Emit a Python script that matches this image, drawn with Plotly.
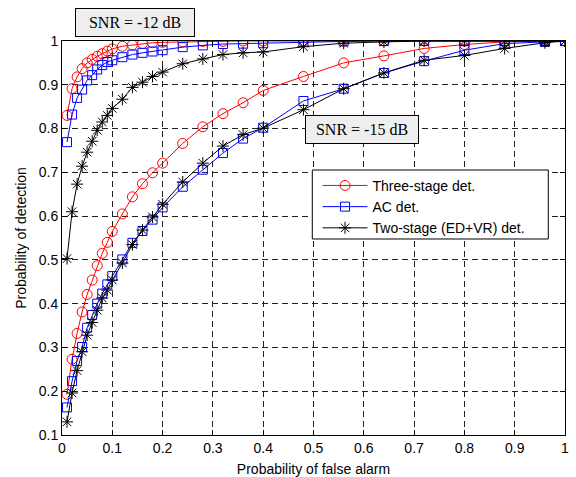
import plotly.graph_objects as go

# False-alarm probabilities at which each detector was evaluated
pfa = [0.01, 0.02, 0.03, 0.04, 0.05, 0.06, 0.07, 0.08, 0.09, 0.10,
       0.12, 0.14, 0.16, 0.18, 0.20, 0.24, 0.28, 0.32, 0.36, 0.40,
       0.48, 0.56, 0.64, 0.72, 0.80, 0.88, 0.96, 1.00]

# Detection probabilities, SNR = -12 dB
three_stage_m12 = [0.830, 0.891, 0.918, 0.937, 0.950, 0.958, 0.965, 0.971, 0.977, 0.982,
                   0.988, 0.991, 0.994, 0.996, 0.997, 0.998, 0.999, 0.999, 1.000, 1.000,
                   1.000, 1.000, 1.000, 1.000, 1.000, 1.000, 1.000, 1.000]
ac_m12 = [0.769, 0.832, 0.870, 0.889, 0.910, 0.922, 0.935, 0.945, 0.952, 0.956,
          0.963, 0.969, 0.973, 0.976, 0.979, 0.986, 0.990, 0.993, 0.994, 0.995,
          0.998, 0.999, 1.000, 1.000, 1.000, 1.000, 1.000, 1.000]
two_stage_m12 = [0.503, 0.610, 0.673, 0.714, 0.746, 0.771, 0.796, 0.815, 0.830, 0.846,
                 0.867, 0.894, 0.906, 0.919, 0.929, 0.948, 0.959, 0.969, 0.973, 0.975,
                 0.987, 0.995, 0.998, 1.000, 1.000, 1.000, 1.000, 1.000]

# Detection probabilities, SNR = -15 dB
three_stage_m15 = [0.193, 0.273, 0.332, 0.381, 0.421, 0.454, 0.487, 0.515, 0.540, 0.565,
                   0.605, 0.644, 0.674, 0.699, 0.721, 0.766, 0.804, 0.834, 0.859, 0.887,
                   0.919, 0.950, 0.966, 0.983, 0.992, 0.998, 1.000, 1.000]
ac_m15 = [0.163, 0.223, 0.269, 0.301, 0.345, 0.374, 0.400, 0.423, 0.444, 0.463,
          0.501, 0.539, 0.566, 0.592, 0.620, 0.667, 0.706, 0.744, 0.777, 0.802,
          0.863, 0.891, 0.927, 0.954, 0.979, 0.994, 0.998, 1.000]
two_stage_m15 = [0.130, 0.196, 0.247, 0.290, 0.328, 0.357, 0.385, 0.413, 0.431, 0.454,
                 0.493, 0.535, 0.568, 0.598, 0.627, 0.678, 0.721, 0.760, 0.786, 0.801,
                 0.843, 0.891, 0.927, 0.956, 0.967, 0.983, 0.996, 1.000]

x_ticks = [0, 0.1, 0.2, 0.3, 0.4, 0.5, 0.6, 0.7, 0.8, 0.9, 1]
x_tick_text = ["0", "0.1", "0.2", "0.3", "0.4", "0.5", "0.6", "0.7", "0.8", "0.9", "1"]
y_ticks = [0.1, 0.2, 0.3, 0.4, 0.5, 0.6, 0.7, 0.8, 0.9, 1]
y_tick_text = ["0.1", "0.2", "0.3", "0.4", "0.5", "0.6", "0.7", "0.8", "0.9", "1"]

detectors = [
    ("Three-stage det.", "#ff0000", "circle-open", 10, three_stage_m12, three_stage_m15),
    ("AC det.", "#0000ff", "square-open", 9, ac_m12, ac_m15),
    ("Two-stage (ED+VR) det.", "#000000", "asterisk-open", 10, two_stage_m12, two_stage_m15),
]

fig = go.Figure()
for name, color, symbol, msize, y12, y15 in detectors:
    for k, yv in enumerate((y12, y15)):
        fig.add_trace(go.Scatter(
            x=pfa, y=yv, mode="lines+markers", name=name,
            legendgroup=name, showlegend=(k == 0),
            line=dict(color=color, width=1),
            marker=dict(symbol=symbol, size=msize, color=color,
                        line=dict(color=color, width=1)),
        ))

axis_font = dict(family="Liberation Sans, Arial, sans-serif", size=14, color="#000000")
common_axis = dict(
    showline=True, linecolor="#000000", linewidth=1, mirror="ticks",
    ticks="inside", ticklen=5, tickwidth=1, tickcolor="#000000",
    showgrid=True, gridcolor="#222222", gridwidth=1, griddash="6px,4px",
    zeroline=False, tickfont=axis_font,
)

fig.update_xaxes(range=[0, 1], tickvals=x_ticks, ticktext=x_tick_text,
                 title=dict(text="Probability of false alarm", font=axis_font, standoff=9),
                 **common_axis)
fig.update_yaxes(range=[0.1, 1], tickvals=y_ticks, ticktext=y_tick_text,
                 title=dict(text="Probability of detection", font=axis_font, standoff=8),
                 **common_axis)

# Legend frame
fig.add_shape(type="rect", xref="paper", yref="paper",
              x0=0.4976, x1=0.9668, y0=0.4975, y1=0.6726,
              line=dict(color="#000000", width=1), fillcolor="#ffffff", layer="above")

box_font = dict(family="Liberation Serif, Times New Roman, serif", size=16, color="#000000")
fig.add_annotation(text="SNR = -12 dB", xref="paper", yref="paper",
                   x=0.145, y=1.048, xanchor="center", yanchor="middle",
                   showarrow=False, font=box_font,
                   bgcolor="#eeeeee", bordercolor="#000000", borderwidth=1,
                   borderpad=2, width=114, height=23)
fig.add_annotation(text="SNR = -15 dB", xref="paper", yref="paper",
                   x=0.5964, y=0.7754, xanchor="center", yanchor="middle",
                   showarrow=False, font=box_font,
                   bgcolor="#eeeeee", bordercolor="#000000", borderwidth=1,
                   borderpad=2, width=108, height=23)

fig.update_layout(
    width=576, height=477,
    margin=dict(l=62, r=11, t=41, b=42, autoexpand=False),
    paper_bgcolor="#ffffff", plot_bgcolor="#ffffff",
    font=axis_font,
    legend=dict(x=0.508, y=0.673, xanchor="left", yanchor="top",
                bgcolor="rgba(0,0,0,0)", borderwidth=0, itemwidth=45,
                tracegroupgap=0, font=axis_font),
)

fig.write_html("out.html")
